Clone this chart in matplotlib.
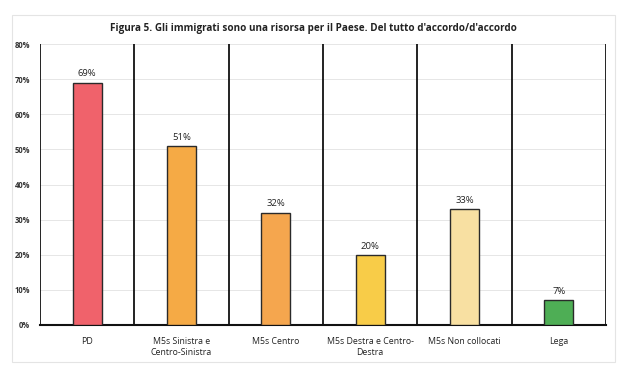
import matplotlib.pyplot as plt
from matplotlib.patches import Rectangle
from matplotlib.ticker import PercentFormatter

# data
categories = ["PD", "M5s Sinistra e\nCentro-Sinistra", "M5s Centro",
              "M5s Destra e Centro-\nDestra", "M5s Non collocati", "Lega"]
values = [69, 51, 32, 20, 33, 7]
colors = ["#F0626B", "#F5AA45", "#F5A64E", "#F8CC48", "#F8E0A2", "#4EAE55"]
yticks = [0, 10, 20, 30, 40, 50, 60, 70, 80]
title = "Figura 5. Gli immigrati sono una risorsa per il Paese. Del tutto d'accordo/d'accordo"

plt.rcParams["font.family"] = ["Open Sans", "DejaVu Sans"]

fig = plt.figure(figsize=(6.2, 3.76), dpi=100)
fig.patch.set_facecolor("white")

# light outer frame like the Excel chart area
fig.patches.append(Rectangle((12 / 620, 1 - 362 / 376), (615 - 12) / 620, (362 - 15) / 376,
                             transform=fig.transFigure, fill=False,
                             edgecolor="#e4e4e4", linewidth=0.8))

ax = fig.add_axes([40 / 620, 1 - 325 / 376, (606 - 40) / 620, (325 - 44) / 376])

x = range(len(categories))
bars = ax.bar(x, values, width=0.31, color=colors, edgecolor="#2a2a2a",
              linewidth=1.0, zorder=3)

for b, v in zip(bars, values):
    ax.text(b.get_x() + b.get_width() / 2, v + 1.2, f"{v}%", ha="center",
            va="bottom", fontsize=6.8, color="#222222", zorder=4)

# separators between categories
for i in range(len(categories) + 1):
    ax.axvline(i - 0.5, color="#111111", linewidth=1.3, zorder=2)

ax.set_xlim(-0.5, len(categories) - 0.5)
ax.set_ylim(0, 80)
ax.set_yticks(yticks)
ax.yaxis.set_major_formatter(PercentFormatter(decimals=0))
ax.grid(axis="y", color="#e6e6e6", linewidth=0.7, zorder=0)

ax.set_xticks(list(x))
ax.set_xticklabels(categories, fontsize=6.3, color="#222222", linespacing=1.25)
for lbl in ax.get_yticklabels():
    lbl.set_fontsize(5.5)
    lbl.set_fontweight("bold")
    lbl.set_color("#333333")

ax.tick_params(axis="both", length=0, pad=7)
ax.tick_params(axis="x", pad=9)
for s in ["top", "right", "left"]:
    ax.spines[s].set_visible(False)
ax.spines["bottom"].set_linewidth(1.5)
ax.spines["bottom"].set_color("#111111")

fig.text((12 + 615) / 2 / 620, 1 - 28 / 376, title, ha="center", va="center",
         fontsize=7.1, fontweight="bold", color="#222222")

fig.savefig("out.png", dpi=100)
